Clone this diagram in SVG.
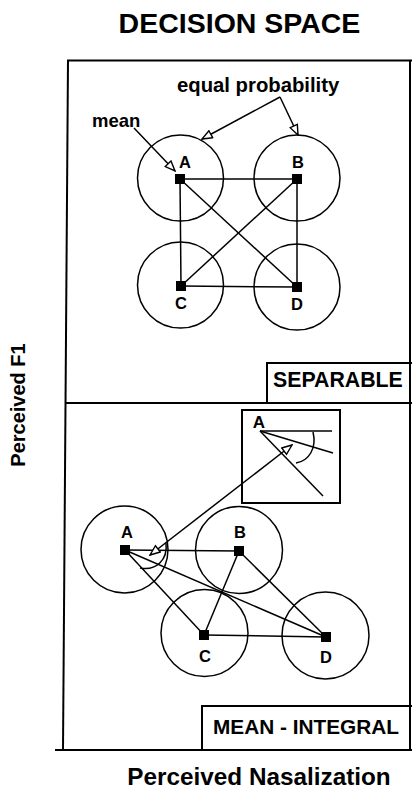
<svg xmlns="http://www.w3.org/2000/svg" width="412" height="790" viewBox="0 0 412 790">
  <style>
    text { font-family: "Liberation Sans", Arial, sans-serif; font-weight: bold; fill: #000; }
    .frame { stroke: #000; stroke-width: 2; fill: none; }
    .link { stroke: #000; stroke-width: 1.5; fill: none; }
    .ring { stroke: #000; stroke-width: 1.5; fill: none; }
    .pt { fill: #000; }
    .lbl { font-size: 16.5px; text-anchor: middle; }
    .ptr { stroke: #000; stroke-width: 1.5; fill: none; marker-end: url(#open); }
  </style>
  <defs>
    <marker id="open" viewBox="0 0 12 10" refX="11" refY="5" markerWidth="12" markerHeight="10" markerUnits="userSpaceOnUse" orient="auto-start-reverse">
      <path d="M1,1 L11,5 L1,9 Z" fill="#fff" stroke="#000" stroke-width="1.4"/>
    </marker>
  </defs>

  <!-- title and axis labels -->
  <text x="239.5" y="33" font-size="28.5" text-anchor="middle">DECISION SPACE</text>
  <text transform="translate(25,405) rotate(-90)" font-size="20" text-anchor="middle">Perceived F1</text>
  <text x="259" y="785" font-size="24.3" text-anchor="middle">Perceived Nasalization</text>

  <!-- frame -->
  <g id="frame">
    <line class="frame" x1="67" y1="60.5" x2="412" y2="60.5"/>
    <line class="frame" x1="68" y1="60" x2="63" y2="750"/>
    <line class="frame" x1="410" y1="60" x2="410" y2="750"/>
    <line class="frame" x1="66" y1="403" x2="412" y2="403"/>
    <line class="frame" x1="55" y1="750" x2="412" y2="750"/>
  </g>

  <!-- panel tags -->
  <g id="tag-separable">
    <polyline class="frame" points="267,403 267,363 412,363"/>
    <text x="273" y="387" font-size="21.3">SEPARABLE</text>
  </g>
  <g id="tag-mean-integral">
    <polyline class="frame" points="202,750 202,706 412,706"/>
    <text x="213" y="734" font-size="20.8">MEAN - INTEGRAL</text>
  </g>

  <!-- upper panel: separable configuration -->
  <g id="upper-connectors">
    <line class="link" x1="180" y1="179" x2="297" y2="179"/>
    <line class="link" x1="180" y1="179" x2="181" y2="286"/>
    <line class="link" x1="180" y1="179" x2="297" y2="287"/>
    <line class="link" x1="297" y1="179" x2="181" y2="286"/>
    <line class="link" x1="297" y1="179" x2="297" y2="287"/>
    <line class="link" x1="181" y1="286" x2="297" y2="287"/>
  </g>
  <g id="sep-A">
    <circle class="ring" cx="180.5" cy="178" r="43"/>
    <rect class="pt" x="175" y="174" width="10" height="10"/>
    <text class="lbl" x="185" y="168">A</text>
  </g>
  <g id="sep-B">
    <circle class="ring" cx="297" cy="178" r="43"/>
    <rect class="pt" x="292" y="174" width="10" height="10"/>
    <text class="lbl" x="298" y="168">B</text>
  </g>
  <g id="sep-C">
    <circle class="ring" cx="180.5" cy="285" r="43"/>
    <rect class="pt" x="176" y="281" width="10" height="10"/>
    <text class="lbl" x="181" y="309">C</text>
  </g>
  <g id="sep-D">
    <circle class="ring" cx="297" cy="287" r="43"/>
    <rect class="pt" x="292" y="282" width="10" height="10"/>
    <text class="lbl" x="297" y="310">D</text>
  </g>

  <!-- annotations -->
  <g id="note-mean">
    <text x="92" y="127" font-size="18.5">mean</text>
    <line class="ptr" x1="134" y1="128" x2="175" y2="171"/>
  </g>
  <g id="note-equal-probability">
    <text x="177" y="92" font-size="20.3">equal probability</text>
    <line class="ptr" x1="280" y1="97" x2="202" y2="139"/>
    <line class="ptr" x1="280" y1="97" x2="298" y2="135"/>
  </g>

  <!-- lower panel: mean-integral configuration -->
  <g id="lower-connectors">
    <line class="link" x1="125" y1="550" x2="239" y2="551"/>
    <line class="link" x1="125" y1="550" x2="204" y2="635"/>
    <line class="link" x1="125" y1="550" x2="326" y2="637"/>
    <line class="link" x1="239" y1="551" x2="204" y2="635"/>
    <line class="link" x1="239" y1="551" x2="326" y2="637"/>
    <line class="link" x1="204" y1="635" x2="326" y2="637"/>
  </g>
  <g id="int-A">
    <circle class="ring" cx="124.5" cy="549.5" r="43.5"/>
    <rect class="pt" x="120" y="545" width="10" height="10"/>
    <text class="lbl" x="127" y="538">A</text>
    <path class="link" d="M166,543 C168,560 156,571 140,568" stroke-width="2"/>
  </g>
  <g id="int-B">
    <circle class="ring" cx="239" cy="550" r="43.5"/>
    <rect class="pt" x="234" y="546" width="10" height="10"/>
    <text class="lbl" x="240" y="538">B</text>
  </g>
  <g id="int-C">
    <circle class="ring" cx="204.5" cy="633" r="43.5"/>
    <rect class="pt" x="199" y="630" width="10" height="10"/>
    <text class="lbl" x="205" y="662">C</text>
  </g>
  <g id="int-D">
    <circle class="ring" cx="325.5" cy="635.5" r="43.5"/>
    <rect class="pt" x="321" y="632" width="10" height="10"/>
    <text class="lbl" x="326" y="663">D</text>
  </g>

  <!-- inset: angle at A -->
  <g id="inset-angle">
    <rect class="frame" x="242" y="410" width="98" height="93"/>
    <text x="259" y="428" font-size="17" text-anchor="middle">A</text>
    <line class="link" x1="260" y1="431" x2="332" y2="431"/>
    <line class="link" x1="260" y1="431" x2="333" y2="453"/>
    <line class="link" x1="260" y1="431" x2="323" y2="496"/>
    <path class="link" d="M313,432 C317,448 309,461 296,463"/>
  </g>
  <g id="inset-pointer">
    <line class="link" x1="150" y1="555" x2="292" y2="445" marker-start="url(#open)" marker-end="url(#open)"/>
  </g>
</svg>
